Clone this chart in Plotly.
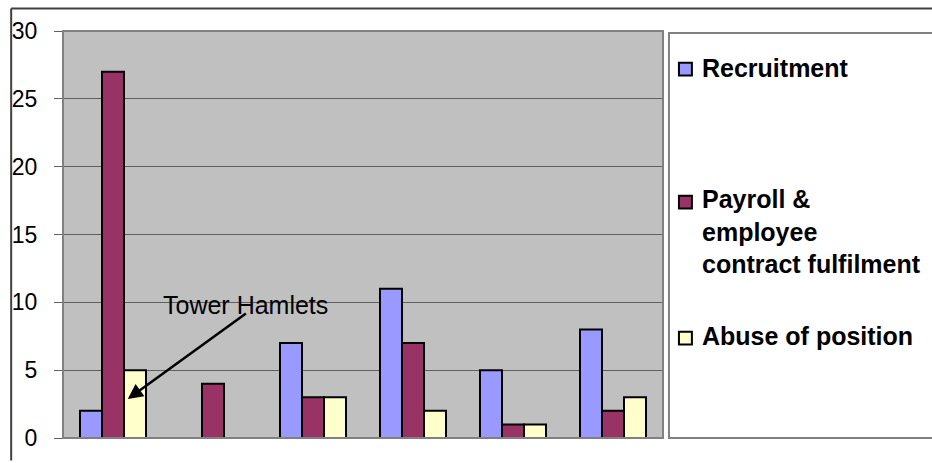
import plotly.graph_objects as go

categories = ["G1", "G2", "G3", "G4", "G5", "G6"]
recruitment = [2, 0, 7, 11, 5, 8]
payroll = [27, 4, 3, 7, 1, 2]
abuse = [5, 0, 3, 2, 1, 3]
series_names = ["Recruitment", "Payroll &<br>employee<br>contract fulfilment", "Abuse of position"]
series_colors = ["#9999FF", "#993366", "#FFFFCC"]
y_ticks = [0, 5, 10, 15, 20, 25, 30]

W, H = 932, 463
L, R, T, B = 61, 663, 31, 447


def px(x):
    return (x - L) / (R - L)


def py(y):
    return (B - y) / (B - T)


fig = go.Figure()
for vals, name, col in zip([recruitment, payroll, abuse], series_names, series_colors):
    fig.add_trace(go.Bar(x=categories, y=vals, name=name, marker=dict(color=col, line=dict(color="black", width=2)),
                         showlegend=False, hoverinfo="skip"))

fig.update_layout(
    width=W, height=H,
    margin=dict(l=L, r=W - R, t=T, b=H - B, pad=0),
    paper_bgcolor="white", plot_bgcolor="#C0C0C0",
    bargap=0.34, bargroupgap=0, barmode="group",
    font=dict(family="Liberation Sans, Arial, sans-serif", color="black"),
)
fig.update_xaxes(showticklabels=False, showgrid=False, zeroline=False, showline=False, ticks="")
fig.update_yaxes(range=[0, 30], tickvals=y_ticks, ticktext=[str(v) for v in y_ticks],
                 showgrid=True, gridcolor="#606060", gridwidth=1, zeroline=False,
                 ticks="outside", ticklen=8, tickcolor="#606060", tickwidth=1,
                 tickfont=dict(size=23, color="black"), ticklabelstandoff=12, showline=False)

shapes = []
# plot area border
shapes.append(dict(type="rect", xref="paper", yref="paper", x0=0, x1=1, y0=0, y1=1,
                   line=dict(color="#808080", width=2), layer="above"))
# legend box
shapes.append(dict(type="rect", xref="paper", yref="paper", x0=px(669), x1=px(940), y0=py(447), y1=py(33),
                   line=dict(color="#808080", width=2), fillcolor="white"))
# outer frame
shapes.append(dict(type="line", xref="paper", yref="paper", x0=px(9), x1=px(9), y0=py(8), y1=py(470),
                   line=dict(color="#404040", width=2)))
shapes.append(dict(type="line", xref="paper", yref="paper", x0=px(9), x1=px(940), y0=py(8), y1=py(8),
                   line=dict(color="#404040", width=2)))

annotations = []
legend_rows = [(70, 69, "middle"), (206, 236, "middle"), (345, 343, "middle")]
for (sq_y, txt_y, anchor), name, col in zip(legend_rows, series_names, series_colors):
    shapes.append(dict(type="rect", xref="paper", yref="paper", x0=px(679), x1=px(692),
                       y0=py(sq_y + 6.5), y1=py(sq_y - 6.5), fillcolor=col, line=dict(color="black", width=2)))
    annotations.append(dict(xref="paper", yref="paper", x=px(700), y=py(txt_y), xanchor="left", yanchor=anchor,
                            text="<b>" + name + "</b>", showarrow=False, align="left",
                            font=dict(size=25, color="black")))

# Tower Hamlets annotation
annotations.append(dict(xref="x", yref="y", x=1.324, y=9.8, text="Tower Hamlets", showarrow=False,
                        font=dict(size=25, color="black")))
annotations.append(dict(xref="x", yref="y", x=0.148, y=2.88, axref="x", ayref="y", ax=1.344, ay=9.25,
                        text="", showarrow=True, arrowhead=2, arrowsize=1.2, arrowwidth=2.5, arrowcolor="black"))

fig.update_layout(shapes=shapes, annotations=annotations)
fig.write_html("out.html")
